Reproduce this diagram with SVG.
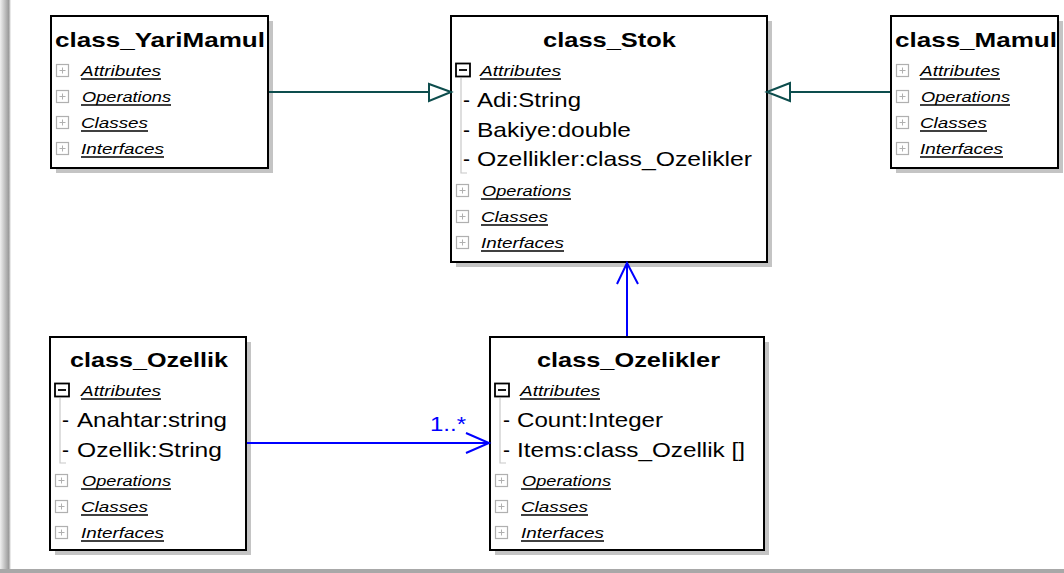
<svg xmlns="http://www.w3.org/2000/svg" width="1064" height="573" viewBox="0 0 1064 573">
<defs>
<linearGradient id="lg" x1="0" y1="0" x2="1" y2="0">
<stop offset="0" stop-color="#f0f0f0"/>
<stop offset="0.8" stop-color="#9a9a9a"/>
<stop offset="1" stop-color="#ffffff"/>
</linearGradient>
</defs>
<style>
.sh{fill:#c4c4c4}
.bx{fill:#fff;stroke:#000;stroke-width:2}
.tt{font-family:"Liberation Sans",Arial,sans-serif;font-weight:bold;font-size:21px;fill:#000}
.lb{font-family:"Liberation Sans",Arial,sans-serif;font-style:italic;font-size:14px;fill:#000}
.ul{stroke:#000;stroke-width:1.5}
.at{font-family:"Liberation Sans",Arial,sans-serif;font-size:21px;fill:#000}
.pl{fill:#fff;stroke:#b0b0b0;stroke-width:1.2}
.pc{stroke:#b0b0b0;stroke-width:1}
.mn{fill:#fff;stroke:#000;stroke-width:1.8}
.tr{fill:none;stroke:#c8c8c8;stroke-width:1.2}
.teal{stroke:#0d4d4d;stroke-width:2;fill:none}
.blue{stroke:#0000ff;stroke-width:2;fill:none}
</style>
<rect x="0" y="0" width="1064" height="573" fill="#fff"/>
<rect x="0" y="0" width="11" height="573" fill="url(#lg)"/>
<rect x="0" y="569" width="1064" height="4" fill="#a8a8a8"/>

<g id="class_YariMamul">
<rect class="sh" x="56" y="21" width="217" height="152"/>
<rect class="bx" x="51" y="16" width="217" height="152"/>
<text class="tt" x="55" y="47" textLength="210" lengthAdjust="spacingAndGlyphs">class_YariMamul</text>
<rect class="pl" x="56.5" y="64.5" width="12" height="12"/><path class="pc" d="M59.5 70.5h6M62.5 67.5v6"/>
<text class="lb" x="81" y="76" textLength="80" lengthAdjust="spacingAndGlyphs">Attributes</text><line class="ul" x1="81" y1="79" x2="161" y2="79"/>
<rect class="pl" x="56.5" y="90.5" width="12" height="12"/><path class="pc" d="M59.5 96.5h6M62.5 93.5v6"/>
<text class="lb" x="82" y="102" textLength="89" lengthAdjust="spacingAndGlyphs">Operations</text><line class="ul" x1="81" y1="105" x2="171" y2="105"/>
<rect class="pl" x="56.5" y="116.5" width="12" height="12"/><path class="pc" d="M59.5 122.5h6M62.5 119.5v6"/>
<text class="lb" x="81" y="128" textLength="67" lengthAdjust="spacingAndGlyphs">Classes</text><line class="ul" x1="81" y1="131" x2="148" y2="131"/>
<rect class="pl" x="56.5" y="142.5" width="12" height="12"/><path class="pc" d="M59.5 148.5h6M62.5 145.5v6"/>
<text class="lb" x="81" y="154" textLength="83" lengthAdjust="spacingAndGlyphs">Interfaces</text><line class="ul" x1="81" y1="157" x2="164" y2="157"/>
</g>

<g id="class_Stok">
<rect class="sh" x="456" y="21" width="316" height="246"/>
<rect class="bx" x="451" y="16" width="316" height="246"/>
<text class="tt" x="543" y="47" textLength="133" lengthAdjust="spacingAndGlyphs">class_Stok</text>
<rect class="mn" x="456" y="63.5" width="14" height="13"/><path d="M459 70h8" stroke="#000" stroke-width="1.8"/>
<text class="lb" x="480" y="76" textLength="81" lengthAdjust="spacingAndGlyphs">Attributes</text><line class="ul" x1="480" y1="79" x2="561" y2="79"/>
<path class="tr" d="M461 78V173h6"/>
<text class="at" x="463" y="107">-</text><text class="at" x="477" y="107" textLength="104" lengthAdjust="spacingAndGlyphs">Adi:String</text>
<text class="at" x="463" y="137">-</text><text class="at" x="477" y="137" textLength="154" lengthAdjust="spacingAndGlyphs">Bakiye:double</text>
<text class="at" x="463" y="166">-</text><text class="at" x="477" y="166" textLength="275" lengthAdjust="spacingAndGlyphs">Ozellikler:class_Ozelikler</text>
<rect class="pl" x="456.5" y="184.5" width="12" height="12"/><path class="pc" d="M459.5 190.5h6M462.5 187.5v6"/>
<text class="lb" x="482" y="196" textLength="89" lengthAdjust="spacingAndGlyphs">Operations</text><line class="ul" x1="481" y1="199" x2="571" y2="199"/>
<rect class="pl" x="456.5" y="210.5" width="12" height="12"/><path class="pc" d="M459.5 216.5h6M462.5 213.5v6"/>
<text class="lb" x="481" y="222" textLength="67" lengthAdjust="spacingAndGlyphs">Classes</text><line class="ul" x1="481" y1="225" x2="548" y2="225"/>
<rect class="pl" x="456.5" y="236.5" width="12" height="12"/><path class="pc" d="M459.5 242.5h6M462.5 239.5v6"/>
<text class="lb" x="481" y="248" textLength="83" lengthAdjust="spacingAndGlyphs">Interfaces</text><line class="ul" x1="481" y1="251" x2="564" y2="251"/>
</g>

<g id="class_Mamul">
<rect class="sh" x="896" y="21" width="167" height="152"/>
<rect class="bx" x="891" y="16" width="167" height="152"/>
<text class="tt" x="895" y="47" textLength="162" lengthAdjust="spacingAndGlyphs">class_Mamul</text>
<rect class="pl" x="896.5" y="64.5" width="12" height="12"/><path class="pc" d="M899.5 70.5h6M902.5 67.5v6"/>
<text class="lb" x="920" y="76" textLength="80" lengthAdjust="spacingAndGlyphs">Attributes</text><line class="ul" x1="920" y1="79" x2="1000" y2="79"/>
<rect class="pl" x="896.5" y="90.5" width="12" height="12"/><path class="pc" d="M899.5 96.5h6M902.5 93.5v6"/>
<text class="lb" x="921" y="102" textLength="89" lengthAdjust="spacingAndGlyphs">Operations</text><line class="ul" x1="920" y1="105" x2="1010" y2="105"/>
<rect class="pl" x="896.5" y="116.5" width="12" height="12"/><path class="pc" d="M899.5 122.5h6M902.5 119.5v6"/>
<text class="lb" x="920" y="128" textLength="67" lengthAdjust="spacingAndGlyphs">Classes</text><line class="ul" x1="920" y1="131" x2="987" y2="131"/>
<rect class="pl" x="896.5" y="142.5" width="12" height="12"/><path class="pc" d="M899.5 148.5h6M902.5 145.5v6"/>
<text class="lb" x="920" y="154" textLength="83" lengthAdjust="spacingAndGlyphs">Interfaces</text><line class="ul" x1="920" y1="157" x2="1003" y2="157"/>
</g>

<g id="class_Ozellik">
<rect class="sh" x="55" y="342" width="196" height="213"/>
<rect class="bx" x="50" y="337" width="196" height="213"/>
<text class="tt" x="70" y="367" textLength="158" lengthAdjust="spacingAndGlyphs">class_Ozellik</text>
<rect class="mn" x="55" y="383.5" width="14" height="13"/><path d="M58 390h8" stroke="#000" stroke-width="1.8"/>
<text class="lb" x="81" y="396" textLength="80" lengthAdjust="spacingAndGlyphs">Attributes</text><line class="ul" x1="81" y1="399" x2="161" y2="399"/>
<path class="tr" d="M60 398V463h6"/>
<text class="at" x="62" y="427">-</text><text class="at" x="77" y="427" textLength="150" lengthAdjust="spacingAndGlyphs">Anahtar:string</text>
<text class="at" x="62" y="457">-</text><text class="at" x="77" y="457" textLength="145" lengthAdjust="spacingAndGlyphs">Ozellik:String</text>
<rect class="pl" x="55.5" y="474.5" width="12" height="12"/><path class="pc" d="M58.5 480.5h6M61.5 477.5v6"/>
<text class="lb" x="82" y="486" textLength="89" lengthAdjust="spacingAndGlyphs">Operations</text><line class="ul" x1="81" y1="489" x2="171" y2="489"/>
<rect class="pl" x="55.5" y="500.5" width="12" height="12"/><path class="pc" d="M58.5 506.5h6M61.5 503.5v6"/>
<text class="lb" x="81" y="512" textLength="67" lengthAdjust="spacingAndGlyphs">Classes</text><line class="ul" x1="81" y1="515" x2="148" y2="515"/>
<rect class="pl" x="55.5" y="526.5" width="12" height="12"/><path class="pc" d="M58.5 532.5h6M61.5 529.5v6"/>
<text class="lb" x="81" y="538" textLength="83" lengthAdjust="spacingAndGlyphs">Interfaces</text><line class="ul" x1="81" y1="541" x2="164" y2="541"/>
</g>

<g id="class_Ozelikler">
<rect class="sh" x="495" y="342" width="274" height="213"/>
<rect class="bx" x="490" y="337" width="274" height="213"/>
<text class="tt" x="537" y="367" textLength="183" lengthAdjust="spacingAndGlyphs">class_Ozelikler</text>
<rect class="mn" x="495" y="383.5" width="14" height="13"/><path d="M498 390h8" stroke="#000" stroke-width="1.8"/>
<text class="lb" x="520" y="396" textLength="80" lengthAdjust="spacingAndGlyphs">Attributes</text><line class="ul" x1="520" y1="399" x2="600" y2="399"/>
<path class="tr" d="M500 398V463h6"/>
<text class="at" x="503" y="427">-</text><text class="at" x="517" y="427" textLength="146" lengthAdjust="spacingAndGlyphs">Count:Integer</text>
<text class="at" x="503" y="457">-</text><text class="at" x="517" y="457" textLength="228" lengthAdjust="spacingAndGlyphs">Items:class_Ozellik []</text>
<rect class="pl" x="495.5" y="474.5" width="12" height="12"/><path class="pc" d="M498.5 480.5h6M501.5 477.5v6"/>
<text class="lb" x="522" y="486" textLength="89" lengthAdjust="spacingAndGlyphs">Operations</text><line class="ul" x1="521" y1="489" x2="611" y2="489"/>
<rect class="pl" x="495.5" y="500.5" width="12" height="12"/><path class="pc" d="M498.5 506.5h6M501.5 503.5v6"/>
<text class="lb" x="521" y="512" textLength="67" lengthAdjust="spacingAndGlyphs">Classes</text><line class="ul" x1="521" y1="515" x2="588" y2="515"/>
<rect class="pl" x="495.5" y="526.5" width="12" height="12"/><path class="pc" d="M498.5 532.5h6M501.5 529.5v6"/>
<text class="lb" x="521" y="538" textLength="83" lengthAdjust="spacingAndGlyphs">Interfaces</text><line class="ul" x1="521" y1="541" x2="604" y2="541"/>
</g>

<g id="connectors">
<line class="teal" x1="269" y1="92" x2="430" y2="92"/>
<polygon class="teal" style="fill:#fff" points="451,92 429,84 429,101"/>
<line class="teal" x1="890" y1="92" x2="789" y2="92"/>
<polygon class="teal" style="fill:#fff" points="767,92 790,83 790,101"/>
<line class="blue" x1="627" y1="336" x2="627" y2="264"/>
<polyline class="blue" points="617,284 627,263 638,284"/>
<line class="blue" x1="247" y1="443" x2="488" y2="443"/>
<polyline class="blue" points="466,433 489,443 466,453"/>
<text x="430" y="431" font-family="Liberation Sans, Arial, sans-serif" font-size="20" fill="#0000ff" textLength="36" lengthAdjust="spacingAndGlyphs">1..*</text>
</g>
</svg>
